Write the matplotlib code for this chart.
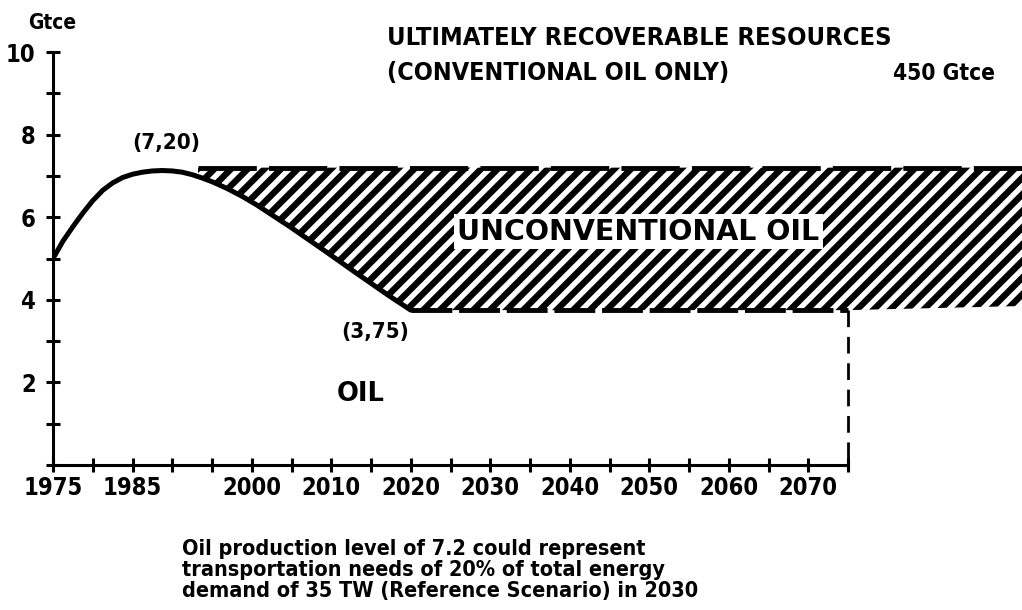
import matplotlib
matplotlib.use("Agg")
import matplotlib.pyplot as plt
from matplotlib import font_manager
from matplotlib.patches import Polygon
import numpy as np

# ---------------- data ----------------
tick_positions = list(range(0, 21))          # evenly spaced tick marks on the time axis
year_labels = ["1975", "1985", "2000", "2010", "2020", "2030",
               "2040", "2050", "2060", "2070"]
year_label_pos = [0, 2, 5, 7, 9, 11, 13, 15, 17, 19]
y_ticks = list(range(0, 11))
y_labels = ["2", "4", "6", "8", "10"]
y_label_pos = [2, 4, 6, 8, 10]

# conventional oil production curve (Gtce), x in tick units
oil_x = [0.0, 0.25, 0.5, 0.75, 1.0, 1.25, 1.5, 1.75, 2.0, 2.25, 2.5, 2.75,
         3.0, 3.25, 3.5, 3.75, 4.0, 4.37, 4.75, 5.12, 5.96, 6.80, 7.64,
         8.48, 9.0]
oil_y = [5.0, 5.42, 5.77, 6.10, 6.40, 6.65, 6.83, 6.96, 7.04, 7.09, 7.12,
         7.13, 7.12, 7.09, 7.03, 6.95, 6.86, 6.70, 6.51, 6.30, 5.77, 5.21,
         4.64, 4.08, 3.75]

peak_level = 7.20        # (7,20)
floor_level = 3.75       # (3,75)
hatch_start = 3.65       # where the unconventional-oil band starts
floor_start = 9.0        # 2020
axis_end = 20.0          # end of time axis
far_floor = 3.85         # lower edge of band at the right border

# ---------------- fonts ----------------
names = {f.name for f in font_manager.fontManager.ttflist}
cond = None
if "Liberation Sans Narrow" in names:
    cond = dict(family="Liberation Sans Narrow")
else:
    for fam in ["DejaVu Sans", "Noto Sans", "Open Sans", "Roboto"]:
        if any(f.name == fam and f.stretch in ("condensed", "semi-condensed")
               for f in font_manager.fontManager.ttflist):
            cond = dict(family=fam, stretch="condensed")
            break
if cond is None:
    cond = dict(family="Roboto")

W, H, DPI = 1022, 610, 100
fig = plt.figure(figsize=(W / DPI, H / DPI), dpi=DPI)
plt.rcParams["hatch.linewidth"] = 4.6

# axes geometry from pixel positions: x0=53, 39.75 px/unit; y0=465, 41.3 px/unit
x0_px, xs = 53, 39.75
y0_px, ys = 465, 41.3
xmax = (W - x0_px) / xs
ytop = 10.25
ax = fig.add_axes([x0_px / W, (H - y0_px) / H, (W - x0_px) / W, ytop * ys / H])
ax.set_xlim(0, xmax)
ax.set_ylim(0, ytop)
ax.patch.set_alpha(0)

for s in ["top", "right"]:
    ax.spines[s].set_visible(False)
ax.spines["left"].set_bounds(0, 10)
ax.spines["bottom"].set_bounds(0, axis_end)
ax.spines["left"].set_linewidth(2.2)
ax.spines["bottom"].set_linewidth(2.2)

ax.set_xticks(year_label_pos)
ax.set_xticklabels(year_labels)
ax.set_xticks(tick_positions, minor=True)
ax.set_yticks(y_label_pos)
ax.set_yticklabels(y_labels)
ax.set_yticks(y_ticks, minor=True)
ax.tick_params(axis="both", which="both", direction="inout", length=10, width=2.2)
ax.tick_params(axis="x", which="major", pad=3, labelsize=17)
ax.tick_params(axis="y", which="major", pad=7.5, labelsize=17)
for lab in ax.get_xticklabels() + ax.get_yticklabels():
    lab.set_fontweight("bold")
    lab.set_fontfamily(cond["family"])
    if "stretch" in cond:
        lab.set_fontstretch(cond["stretch"])

# ---------------- hatched unconventional band ----------------
cx = np.array(oil_x)
cy = np.array(oil_y)
start_y = np.interp(hatch_start, cx, cy)
mask = (cx > hatch_start) & (cx <= floor_start)
bottom_pts = [(hatch_start, start_y)] + list(zip(cx[mask], cy[mask]))
poly = ([(hatch_start, peak_level), (xmax, peak_level), (xmax, far_floor),
         (axis_end, floor_level)] + bottom_pts[::-1])
band = Polygon(poly, closed=True, facecolor="white", edgecolor="black",
               linewidth=0, hatch="//", zorder=2, clip_on=False)
ax.add_patch(band)

ax.plot([hatch_start, xmax], [peak_level, peak_level], color="black", lw=3.5,
        dashes=(12, 2.5), zorder=3, clip_on=False)
ax.plot([floor_start, axis_end], [floor_level, floor_level], color="black", lw=3.5,
        dashes=(8.4, 1.4), zorder=3)
ax.plot([axis_end, axis_end], [floor_level, 0], color="black", lw=2.0,
        dashes=(6, 3.5), zorder=3)

ax.plot(oil_x, oil_y, color="black", lw=3.6, solid_capstyle="round",
        solid_joinstyle="round", zorder=4)

# ---------------- annotations ----------------
ckw = dict(fontweight="bold", color="black", **cond)
ax.text(2.84, 7.8, "(7,20)", ha="center", va="center", fontsize=16, **ckw)
ax.text(8.1, 3.22, "(3,75)", ha="center", va="center", fontsize=16, **ckw)
ax.text(7.75, 1.72, "OIL", ha="center", va="center", fontsize=18.5,
        fontweight="bold", family="DejaVu Sans")
ax.text(14.72, 5.65, "UNCONVENTIONAL OIL", ha="center", va="center",
        fontsize=20.5, fontweight="bold", family="DejaVu Sans", zorder=5,
        bbox=dict(facecolor="white", edgecolor="none", pad=2.5))


def px(x, y):
    return x / W, 1 - y / H


fig.text(*px(52, 23), "Gtce", ha="center", va="center", fontsize=15, **ckw)
fig.text(*px(387, 38), "ULTIMATELY RECOVERABLE RESOURCES", ha="left",
         va="center", fontsize=18.3, **ckw)
fig.text(*px(387, 73), "(CONVENTIONAL OIL ONLY)", ha="left", va="center",
         fontsize=18, **ckw)
fig.text(*px(995, 73), "450 Gtce", ha="right", va="center", fontsize=16.3, **ckw)
fig.text(*px(182, 570), "Oil production level of 7.2 could represent\n"
         "transportation needs of 20% of total energy\n"
         "demand of 35 TW (Reference Scenario) in 2030",
         ha="left", va="center", fontsize=15.5, linespacing=1.05, **ckw)

fig.savefig("out.png", dpi=DPI)
